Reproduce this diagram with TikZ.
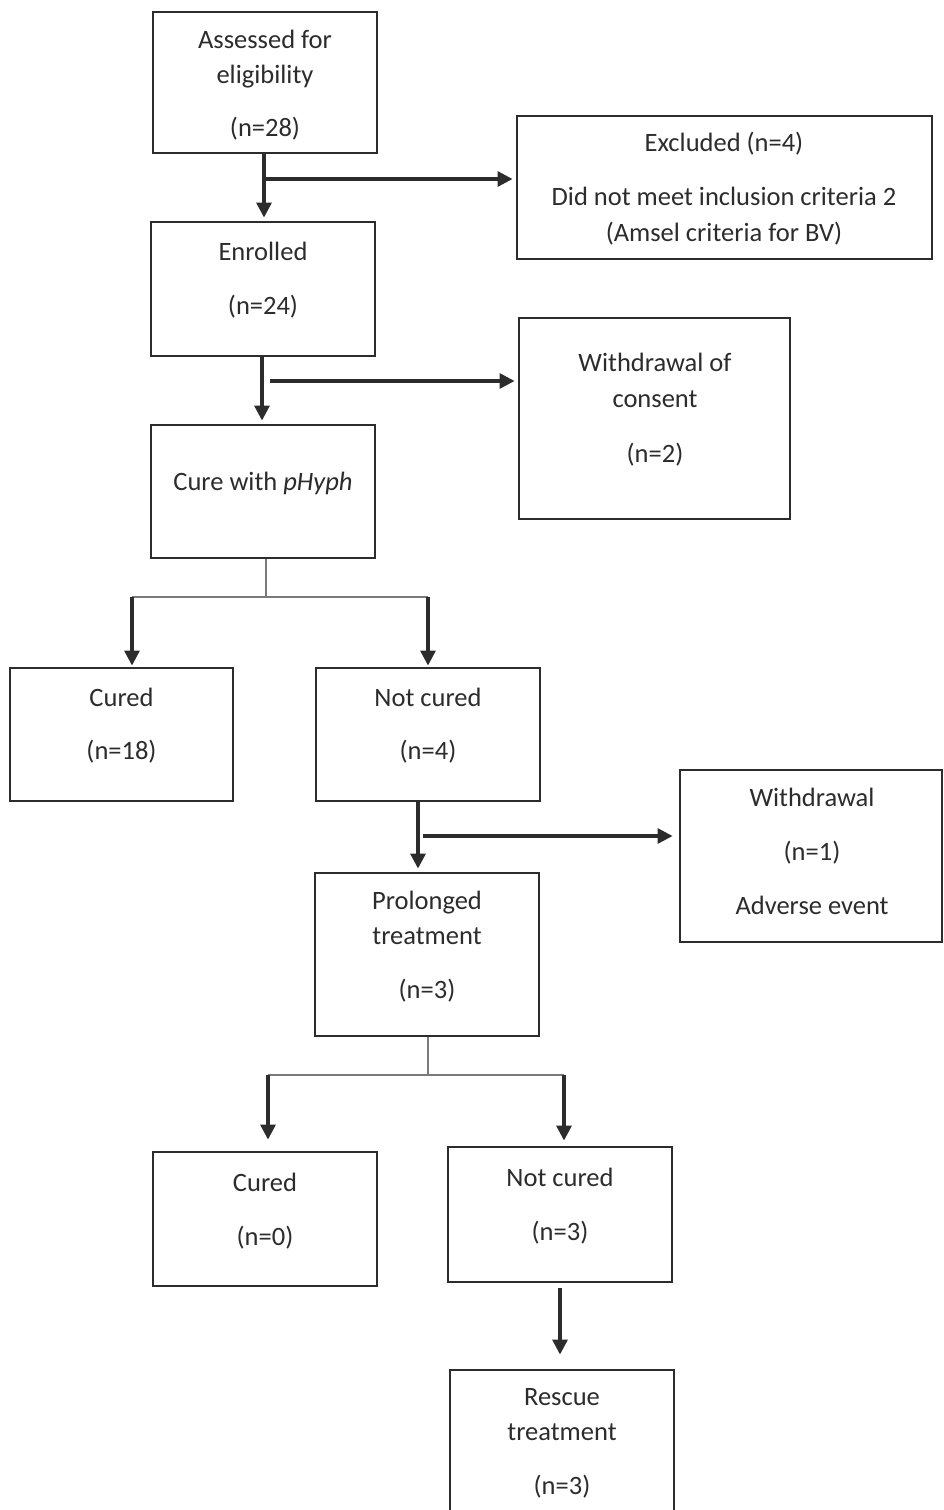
\documentclass[tikz,border=0pt]{standalone}
\usepackage{fontspec}
\setmainfont{Carlito}
\usetikzlibrary{arrows.meta,calc}
\definecolor{ink}{HTML}{2C2C2C}
\definecolor{thinln}{HTML}{7A7A7A}
\tikzset{
  box/.style={draw=ink,line width=2.9pt,inner sep=0pt,fill=none},
  txt/.style={anchor=base,inner sep=0pt,text=ink,font=\fontsize{26.5}{31}\selectfont},
  arr/.style={draw=ink,line width=3.1pt,-{Triangle[length=15pt,width=15pt]},shorten >=3pt},
  thinline/.style={draw=thinln,line width=1.6pt}
}
\begin{document}
\begin{tikzpicture}[x=1pt,y=-1pt]
\clip (0,0) rectangle (944,1510);
\fill[white] (0,0) rectangle (944,1510);
% boxes
\node[box,minimum width=224pt,minimum height=141pt] (A) at (265,82.5) {};
\node[box,minimum width=415pt,minimum height=143pt] (Excl) at (724.5,187.5) {};
\node[box,minimum width=224pt,minimum height=134pt] (Enr) at (263,289) {};
\node[box,minimum width=271pt,minimum height=201pt] (Wdc) at (654.5,418.5) {};
\node[box,minimum width=224pt,minimum height=133pt] (Cure) at (263,491.5) {};
\node[box,minimum width=223pt,minimum height=133pt] (CuredA) at (121.5,734.5) {};
\node[box,minimum width=224pt,minimum height=133pt] (NCA) at (428,734.5) {};
\node[box,minimum width=262pt,minimum height=172pt] (Wd) at (811,856) {};
\node[box,minimum width=224pt,minimum height=163pt] (Prol) at (427,954.5) {};
\node[box,minimum width=224pt,minimum height=134pt] (CuredB) at (265,1219) {};
\node[box,minimum width=224pt,minimum height=135pt] (NCB) at (560,1214.5) {};
\node[box,minimum width=224pt,minimum height=160pt] (Res) at (562,1450) {};
% texts
\node[txt] (tA1) at (265,48) {Assessed for};
\node[txt] (tA2) at (265,83) {eligibility};
\node[txt] (tA3) at (265,136) {(n=28)};
\node[txt] (tE1) at (724,151) {Excluded (n=4)};
\node[txt] (tE2) at (724,205) {Did not meet inclusion criteria 2};
\node[txt] (tE3) at (724,241) {(Amsel criteria for BV)};
\node[txt] (tN1) at (263,260) {Enrolled};
\node[txt] (tN2) at (263,314) {(n=24)};
\node[txt] (tW1) at (655,371) {Withdrawal of};
\node[txt] (tW2) at (655,407) {consent};
\node[txt] (tW3) at (655,462) {(n=2)};
\node[txt] (tC1) at (263,490) {Cure with \textit{pHyph}};
\node[txt] (tCA1) at (121.5,706) {Cured};
\node[txt] (tCA2) at (121.5,759) {(n=18)};
\node[txt] (tNA1) at (428,706) {Not cured};
\node[txt] (tNA2) at (428,759) {(n=4)};
\node[txt] (tWd1) at (812,806) {Withdrawal};
\node[txt] (tWd2) at (812,860) {(n=1)};
\node[txt] (tWd3) at (812,914) {Adverse event};
\node[txt] (tP1) at (427,909) {Prolonged};
\node[txt] (tP2) at (427,944) {treatment};
\node[txt] (tP3) at (427,998) {(n=3)};
\node[txt] (tCB1) at (265,1191) {Cured};
\node[txt] (tCB2) at (265,1245) {(n=0)};
\node[txt] (tNB1) at (560,1186) {Not cured};
\node[txt] (tNB2) at (560,1240) {(n=3)};
\node[txt] (tR1) at (562,1405) {Rescue};
\node[txt] (tR2) at (562,1440) {treatment};
\node[txt] (tR3) at (562,1494) {(n=3)};
% connectors
\coordinate (b1) at (264,179);
\draw[arr] (A.south -| b1) -- (b1 |- Enr.north);
\draw[arr] (b1) -- (b1 -| Excl.west);
\coordinate (v2) at (262,356);
\coordinate (b2) at (270,381);
\draw[arr] (Enr.south -| v2) -- (v2 |- Cure.north);
\draw[arr] (b2) -- (b2 -| Wdc.west);
\coordinate (s1) at (266,597);
\coordinate (sL) at (132,597);
\coordinate (sR) at (428,597);
\draw[thinline] (Cure.south -| s1) -- (s1);
\draw[thinline] (sL) -- (sR);
\draw[arr,shorten >=1pt] (sL) -- (sL |- CuredA.north);
\draw[arr,shorten >=1pt] (sR) -- (sR |- NCA.north);
\coordinate (v3) at (418,801);
\coordinate (b3) at (423,836);
\draw[arr] (NCA.south -| v3) -- (v3 |- Prol.north);
\draw[arr,shorten >=6pt] (b3) -- (b3 -| Wd.west);
\coordinate (s2) at (428,1075);
\coordinate (pL) at (268,1075);
\coordinate (pR) at (564,1075);
\draw[thinline] (Prol.south -| s2) -- (s2);
\draw[thinline] (pL) -- (pR);
\draw[arr,shorten >=11pt] (pL) -- (pL |- CuredB.north);
\draw[arr,shorten >=5pt] (pR) -- (pR |- NCB.north);
\coordinate (v4) at (560,1282);
\draw[arr,shorten <=5pt,shorten >=14pt] (NCB.south -| v4) -- (v4 |- Res.north);
\end{tikzpicture}
\end{document}
